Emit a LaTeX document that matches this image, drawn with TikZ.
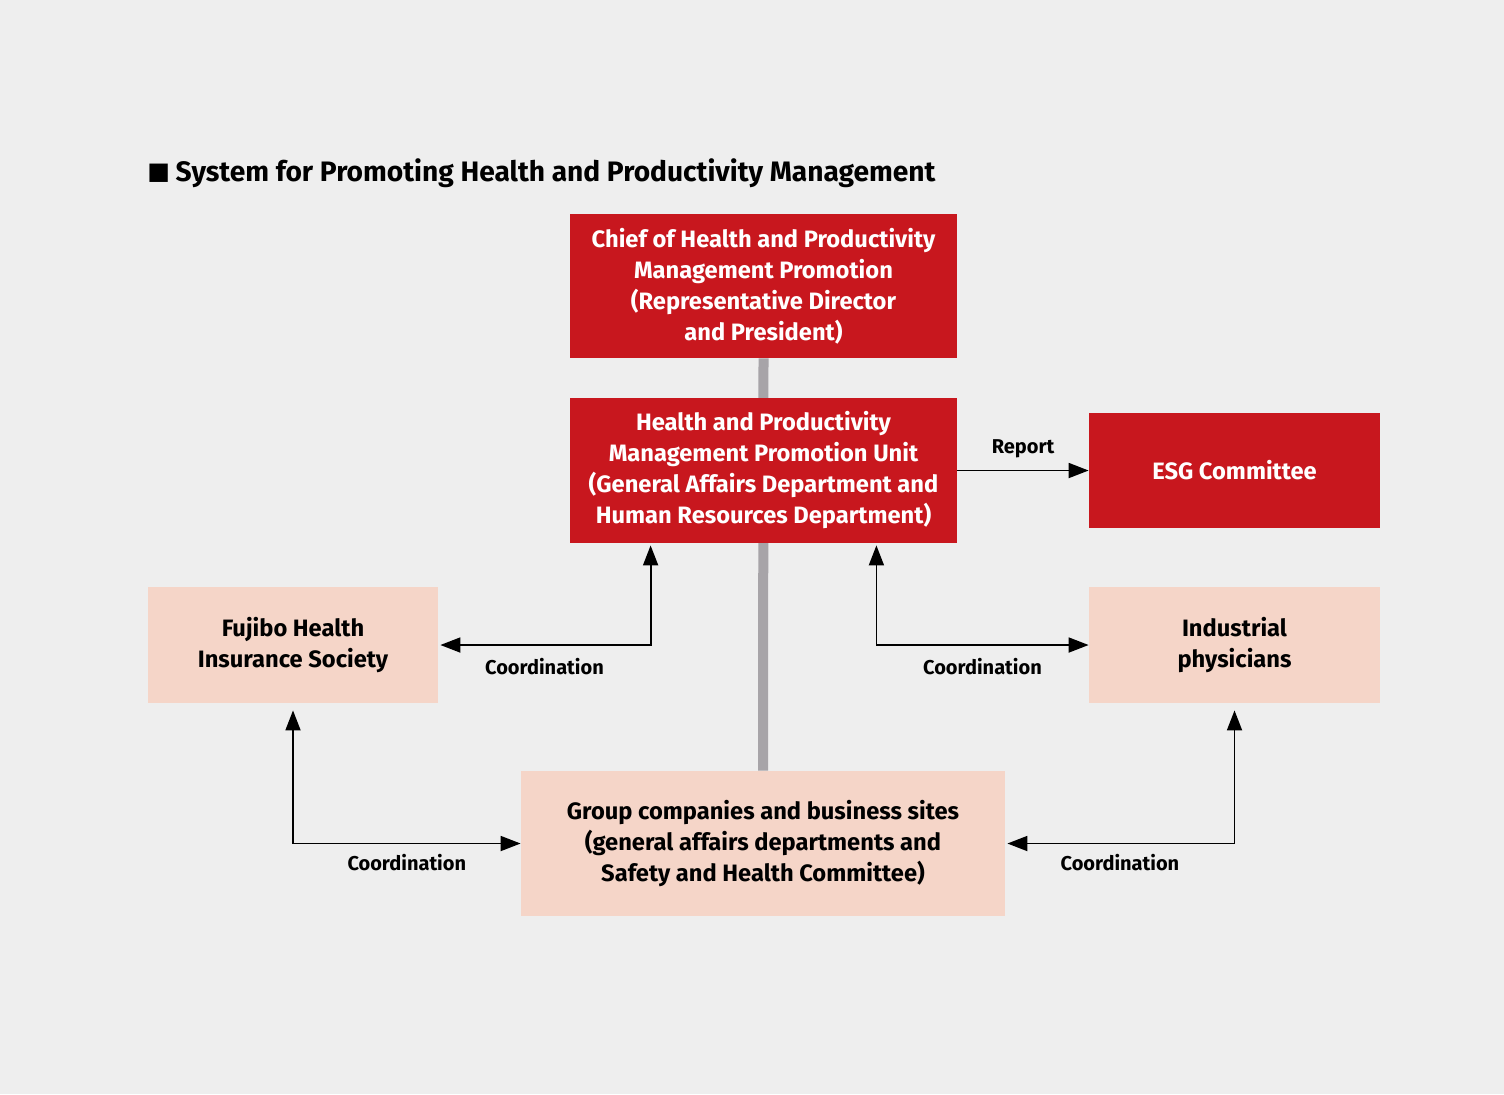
\documentclass[tikz,border=0pt]{standalone}
\usepackage{fontspec}
\setmainfont{Fira Sans}
\newfontfamily\symfont{DejaVu Sans}
\usetikzlibrary{arrows.meta,backgrounds}

\definecolor{fondo}{HTML}{EEEEEE}
\definecolor{rosso}{HTML}{C8171E}
\definecolor{rosa}{HTML}{F5D5C8}
\definecolor{grigio}{HTML}{A7A4A8}

\tikzset{
  rossobox/.style={fill=rosso,text=white,font=\bfseries\fontsize{11.85}{15.5}\selectfont,
    align=center,inner sep=0pt},
  rosabox/.style={fill=rosa,text=black,font=\bfseries\fontsize{11.85}{15.5}\selectfont,
    align=center,inner sep=0pt},
  freccia/.style={line width=0.9pt,-{Triangle[length=10pt,width=7.5pt]}},
  doppia/.style={line width=0.9pt,{Triangle[length=10pt,width=7.5pt]}-{Triangle[length=10pt,width=7.5pt]}},
  etichetta/.style={font=\bfseries\fontsize{10}{12}\selectfont,inner sep=0pt}
}

\begin{document}
\begin{tikzpicture}[x=0.5pt,y=-0.5pt]
  \begin{scope}[on background layer]
    \fill[fondo] (0,0) rectangle (1504,1094);
  \end{scope}
  \useasboundingbox (0,0) rectangle (1504,1094);

  % titolo
  \node[anchor=base west,inner sep=0pt,font=\bfseries\fontsize{14.07}{16}\selectfont] (titolo) at (147,181)
    {\raisebox{0.8pt}{\symfont\fontsize{12}{14}\selectfont ■}\hspace{-0.5pt} System for Promoting Health and Productivity Management};

  % riquadri
  \node[rossobox,minimum width=193.5pt,minimum height=72pt] (capo) at (763.5,286)
    {Chief of Health and Productivity\\Management Promotion\\(Representative Director\\and President)};
  \node[rossobox,minimum width=193.5pt,minimum height=72.5pt] (unita) at (763.5,470.5)
    {Health and Productivity\\Management Promotion Unit\\(General Affairs Department and\\Human Resources Department)};
  \node[rossobox,minimum width=145.5pt,minimum height=57.5pt] (esg) at (1234.5,470.5)
    {ESG Committee};
  \node[rosabox,minimum width=145pt,minimum height=58pt] (fujibo) at (293,645)
    {Fujibo Health\\Insurance Society};
  \node[rosabox,minimum width=145.5pt,minimum height=58pt] (medici) at (1234.5,645)
    {Industrial\\physicians};
  \node[rosabox,minimum width=242pt,minimum height=72.5pt] (gruppo) at (763,843.5)
    {Group companies and business sites\\(general affairs departments and\\Safety and Health Committee)};

  % linea verticale
  \begin{scope}[on background layer]
    \draw[grigio,line width=5pt] (capo.south) -- (gruppo.north);
  \end{scope}

  % collegamenti
  \draw[freccia] (unita.east) -- node[etichetta,above=6pt] (t1) {Report} (esg.west);
  \draw[doppia,shorten <=1pt,shorten >=1pt] ([xshift=40.5pt]unita.south west) |-
    node[etichetta,pos=0.75,below=6pt] (t2) {Coordination} (fujibo.east);
  \draw[doppia,shorten <=1pt] ([xshift=-40.5pt]unita.south east) |-
    node[etichetta,pos=0.75,below=6pt] (t3) {Coordination} (medici.west);
  \draw[doppia,shorten <=3.5pt] (fujibo.south) |-
    node[etichetta,pos=0.75,below=5pt] (t4) {Coordination} (gruppo.west);
  \draw[doppia,shorten <=3.5pt,shorten >=1pt] (medici.south) |-
    node[etichetta,pos=0.75,below=5pt] (t5) {Coordination} (gruppo.east);
\end{tikzpicture}
\end{document}
